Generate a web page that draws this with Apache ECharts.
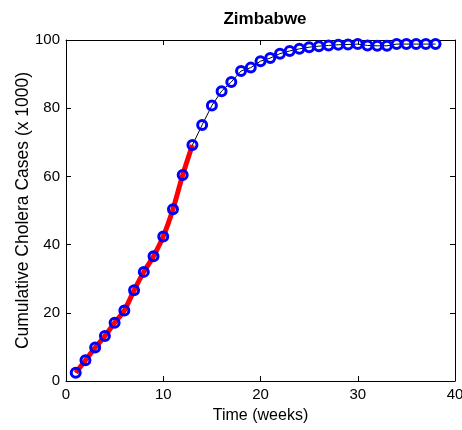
<!DOCTYPE html>
<html><head><meta charset="utf-8">
<script src="https://cdn.jsdelivr.net/npm/echarts@6/dist/echarts.min.js"></script>
<style>html,body{margin:0;padding:0;background:#fff}#c{width:462px;height:430px}</style>
</head><body><div id="c"></div>
<script>
var weeks = [1,2,3,4,5,6,7,8,9,10,11,12,13,14,15,16,17,18,19,20,21,22,23,24,25,26,27,28,29,30,31,32,33,34,35,36,37,38];
var cases = [2.4,6.1,9.8,13.2,17.1,20.7,26.6,32.0,36.6,42.4,50.4,60.4,69.2,75.1,80.8,85.0,87.7,90.9,91.9,93.8,94.7,96.0,96.8,97.4,97.9,98.2,98.4,98.6,98.7,98.8,98.4,98.3,98.3,98.8,98.8,98.8,98.8,98.8];
var fitWeeks = weeks.slice(0,13);
var fitCases = cases.slice(0,13);
var xTicks = [0,10,20,30,40];
var yTicks = [0,20,40,60,80,100];

function pairs(xs, ys){ return xs.map(function(x,i){return [x, ys[i]];}); }
var font = 'Liberation Sans, Arial, sans-serif';
var chart = echarts.init(document.getElementById('c'), null, {renderer:'canvas'});
var lineStyle = {color:'#000', width:1};
chart.setOption({
  animation:false,
  title:{text:'Zimbabwe', left:260, top:6, textAlign:'center',
    textStyle:{fontFamily:font, fontWeight:'bold', fontSize:17, color:'#000'}},
  grid:{left:66, right:7, top:40, bottom:49, containLabel:false, outerBoundsMode:'none'},
  xAxis:[{type:'value', min:xTicks[0], max:xTicks[xTicks.length-1], interval:10,
    name:'Time (weeks)', nameLocation:'middle', nameGap:27, nameMoveOverlap:false,
    nameTextStyle:{fontFamily:font, fontSize:16, color:'#000'},
    axisLine:{onZero:false, lineStyle:lineStyle}, axisTick:{inside:true, length:5, lineStyle:lineStyle},
    axisLabel:{fontFamily:font, fontSize:15, color:'#000', margin:6, showMaxLabel:true},
    splitLine:{show:false}},
   {type:'value', position:'top', min:0, max:40, interval:10,
    axisLine:{show:true, onZero:false, lineStyle:lineStyle}, axisTick:{inside:true, length:5, lineStyle:lineStyle},
    axisLabel:{show:false}, splitLine:{show:false}}],
  yAxis:[{type:'value', min:yTicks[0], max:yTicks[yTicks.length-1], interval:20,
    name:'Cumulative Cholera Cases (x 1000)', nameLocation:'middle', nameGap:34, nameMoveOverlap:false,
    nameTextStyle:{fontFamily:font, fontSize:17.5, color:'#000'},
    axisLine:{onZero:false, lineStyle:lineStyle}, axisTick:{inside:true, length:5, lineStyle:lineStyle},
    axisLabel:{fontFamily:font, fontSize:15, color:'#000', margin:6},
    splitLine:{show:false}},
   {type:'value', position:'right', min:0, max:100, interval:20,
    axisLine:{show:true, onZero:false, lineStyle:lineStyle}, axisTick:{show:true, inside:true, length:5, lineStyle:lineStyle},
    axisLabel:{show:false}, splitLine:{show:false}}],
  series:[
    {type:'line', data:pairs(weeks, cases), showSymbol:false,
     lineStyle:{color:'#000', width:1}, z:1},
    {type:'line', data:pairs(fitWeeks, fitCases), smooth:0.3, showSymbol:false,
     lineStyle:{color:'#ff0000', width:5}, z:2},
    {type:'scatter', data:pairs(weeks, cases), symbol:'circle', symbolSize:9,
     itemStyle:{color:'rgba(0,0,0,0)', borderColor:'#0000ff', borderWidth:3, opacity:1}, z:3}
  ]
});
</script></body></html>
